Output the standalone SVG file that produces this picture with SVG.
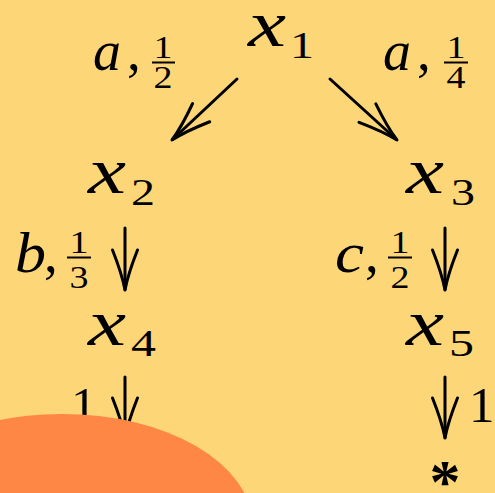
<svg xmlns="http://www.w3.org/2000/svg" width="495" height="493" viewBox="0 0 495 493">
<style>
.bg{fill:#FDD678}
text{fill:#000}
.v{font-family:"Liberation Serif",serif;font-style:italic;font-size:66px}
.s{font-family:"Liberation Serif",serif;font-size:38px}
.l{font-family:"Liberation Serif",serif;font-style:italic;font-size:56px}
.c{font-family:"Liberation Serif",serif;font-size:55px}
.n{font-family:"Liberation Serif",serif;font-size:51px}
.f{font-family:"Liberation Serif",serif;font-size:31px;text-anchor:middle}
.bar{stroke:#000;stroke-width:2}
.edge{stroke:#000;stroke-width:3;fill:none;stroke-linecap:round}
.blob{fill:#FF8746}
</style>
<defs>
<marker id="arr" markerUnits="userSpaceOnUse" orient="auto" refX="0" refY="0" markerWidth="60" markerHeight="60" overflow="visible">
<path d="M-40,-12.5 Q-16,-3 0,0 Q-16,3 -40,12.5" fill="none" stroke="#000" stroke-width="3" stroke-linecap="round"/>
</marker>
</defs>
<rect class="bg" x="0" y="0" width="495" height="493"/>
<g id="x1"><text class="v" x="248" y="46" textLength="38" lengthAdjust="spacingAndGlyphs">x</text><text class="s" x="290" y="58" textLength="24" lengthAdjust="spacingAndGlyphs">1</text></g>
<g id="x2"><text class="v" x="88" y="193" textLength="38" lengthAdjust="spacingAndGlyphs">x</text><text class="s" x="131" y="205" textLength="24" lengthAdjust="spacingAndGlyphs">2</text></g>
<g id="x3"><text class="v" x="406" y="193" textLength="38" lengthAdjust="spacingAndGlyphs">x</text><text class="s" x="451" y="205" textLength="24" lengthAdjust="spacingAndGlyphs">3</text></g>
<g id="x4"><text class="v" x="88" y="345" textLength="38" lengthAdjust="spacingAndGlyphs">x</text><text class="s" x="131" y="356" textLength="25" lengthAdjust="spacingAndGlyphs">4</text></g>
<g id="x5"><text class="v" x="406" y="345" textLength="38" lengthAdjust="spacingAndGlyphs">x</text><text class="s" x="449" y="356" textLength="25" lengthAdjust="spacingAndGlyphs">5</text></g>
<g id="star"><text x="445" y="502" style="font-family:'Liberation Serif',serif;font-weight:bold;font-size:62px;text-anchor:middle">*</text></g>
<g id="connectors">
<line class="edge" x1="237" y1="79" x2="172" y2="140" marker-end="url(#arr)"/>
<line class="edge" x1="330" y1="79" x2="397" y2="140" marker-end="url(#arr)"/>
<line class="edge" x1="125" y1="228" x2="125" y2="290" marker-end="url(#arr)"/>
<line class="edge" x1="445" y1="228" x2="445" y2="290" marker-end="url(#arr)"/>
<line class="edge" x1="125" y1="377" x2="125" y2="438" marker-end="url(#arr)"/>
<line class="edge" x1="445" y1="377" x2="445" y2="438" marker-end="url(#arr)"/>
</g>
<g id="labels">
<g><text class="l" x="93" y="70">a</text><text class="c" x="127" y="70">,</text><text class="f" x="163" y="58" textLength="19" lengthAdjust="spacingAndGlyphs">1</text><line class="bar" x1="152" y1="62.5" x2="175" y2="62.5"/><text class="f" x="163" y="88" textLength="19" lengthAdjust="spacingAndGlyphs">2</text></g>
<g><text class="l" x="383" y="70">a</text><text class="c" x="417" y="70">,</text><text class="f" x="456" y="58" textLength="19" lengthAdjust="spacingAndGlyphs">1</text><line class="bar" x1="444" y1="62.5" x2="468" y2="62.5"/><text class="f" x="456" y="88" textLength="19" lengthAdjust="spacingAndGlyphs">4</text></g>
<g><text class="l" x="15" y="272" textLength="31" lengthAdjust="spacingAndGlyphs">b</text><text class="c" x="44" y="272">,</text><text class="f" x="79" y="253" textLength="19" lengthAdjust="spacingAndGlyphs">1</text><line class="bar" x1="67" y1="257.5" x2="91" y2="257.5"/><text class="f" x="79" y="288" textLength="19" lengthAdjust="spacingAndGlyphs">3</text></g>
<g><text class="l" x="335" y="272" textLength="29" lengthAdjust="spacingAndGlyphs">c</text><text class="c" x="365" y="272">,</text><text class="f" x="400" y="253" textLength="19" lengthAdjust="spacingAndGlyphs">1</text><line class="bar" x1="388" y1="257.5" x2="412" y2="257.5"/><text class="f" x="400" y="288" textLength="19" lengthAdjust="spacingAndGlyphs">2</text></g>
<text class="n" x="71" y="422">1</text>
<text class="n" x="469" y="422">1</text>
</g>
<ellipse class="blob" cx="62" cy="524" rx="190" ry="110"/>
</svg>
